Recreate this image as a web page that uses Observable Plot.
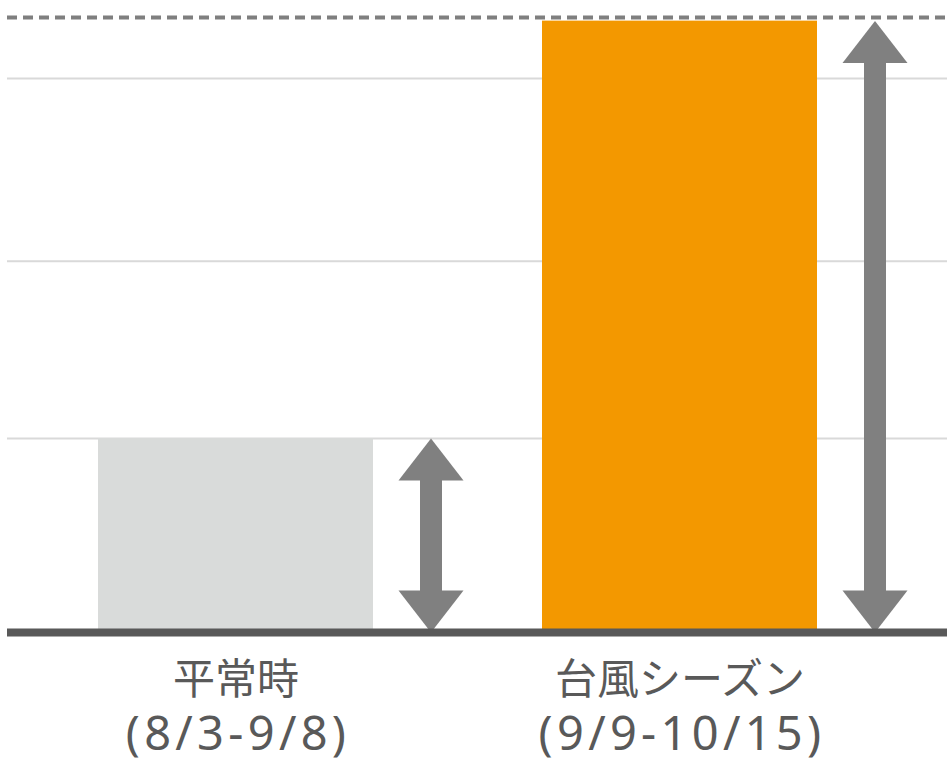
<!DOCTYPE html>
<html>
<head>
<meta charset="utf-8">
<script src="https://cdn.jsdelivr.net/npm/d3@7"></script>
<script src="https://cdn.jsdelivr.net/npm/@observablehq/plot@0.6"></script>
<style>
  html, body { margin: 0; padding: 0; background: #ffffff; }
  #chart svg { display: block; }
</style>
</head>
<body>
<div id="chart"></div>
<script>
// ---- data ----
const categories = ["平常時", "台風シーズン"];
const periods = ["(8/3-9/8)", "(9/9-10/15)"];
const values = [1.05, 3.31];
const barColors = ["#d9dbda", "#f39800"];
const gridValues = [1.05, 2.01, 3.0];
const peakLevel = [3.33];

const table = categories.map((c, i) => ({
  category: c, period: periods[i], value: values[i], color: barColors[i]
}));

// arrowheads (tip at origin)
const headUp = { draw(ctx) { ctx.moveTo(0, 0); ctx.lineTo(32.5, 42); ctx.lineTo(-32.5, 42); ctx.closePath(); } };
const headDown = { draw(ctx) { ctx.moveTo(0, 0); ctx.lineTo(32.5, -42); ctx.lineTo(-32.5, -42); ctx.closePath(); } };

const arrowColor = "#808080";
const arrowDx = 195;

const chart = Plot.plot({
  width: 947,
  height: 762,
  marginLeft: 0,
  marginRight: 31,
  marginTop: 4,
  marginBottom: 130,
  style: { fontFamily: "'Noto Sans CJK JP', 'Noto Sans', sans-serif", background: "#ffffff", overflow: "visible" },
  x: { type: "band", domain: categories, paddingInner: 0.38, paddingOuter: 0.22, axis: null },
  y: { domain: [0, 3.4], axis: null },
  marks: [
    Plot.ruleY(gridValues, { stroke: "#d9d9d9", strokeWidth: 2, insetLeft: 7, insetRight: -31 }),
    Plot.ruleY(peakLevel, { stroke: "#7f7f7f", strokeWidth: 4, strokeDasharray: "10,6", insetLeft: 7, insetRight: -31 }),
    Plot.barY(table, { x: "category", y: "value", fill: "color" }),
    Plot.ruleX(table, { x: "category", y1: "value", y2: 0, stroke: arrowColor, strokeWidth: 22, insetTop: 38, insetBottom: 38, dx: arrowDx }),
    Plot.dot(table, { x: "category", y: "value", symbol: headUp, fill: arrowColor, stroke: "none", dx: arrowDx }),
    Plot.dot(table, { x: "category", y: 0, symbol: headDown, fill: arrowColor, stroke: "none", dx: arrowDx }),
    Plot.ruleY([0], { stroke: "#595959", strokeWidth: 8, insetLeft: 7, insetRight: -31 }),
    Plot.text(table, { x: "category", y: 0, text: "category", dy: 61, lineAnchor: "bottom", fontSize: 42, fill: "#595959", fontFamily: "'Noto Sans CJK JP', sans-serif" }),
    Plot.text(table, { x: "category", y: 0, text: "period", dy: 117, dx: 2, lineAnchor: "bottom", fontSize: 47, fill: "#595959", fontFamily: "'Noto Sans', sans-serif" })
  ]
});

// widen the date line's letter spacing to match the reference typeface
const textGroups = d3.select(chart).selectAll('g[aria-label="text"]').nodes();
if (textGroups.length) {
  d3.select(textGroups[textGroups.length - 1]).style("letter-spacing", "4.3px");
}

document.getElementById("chart").appendChild(chart);
</script>
</body>
</html>
